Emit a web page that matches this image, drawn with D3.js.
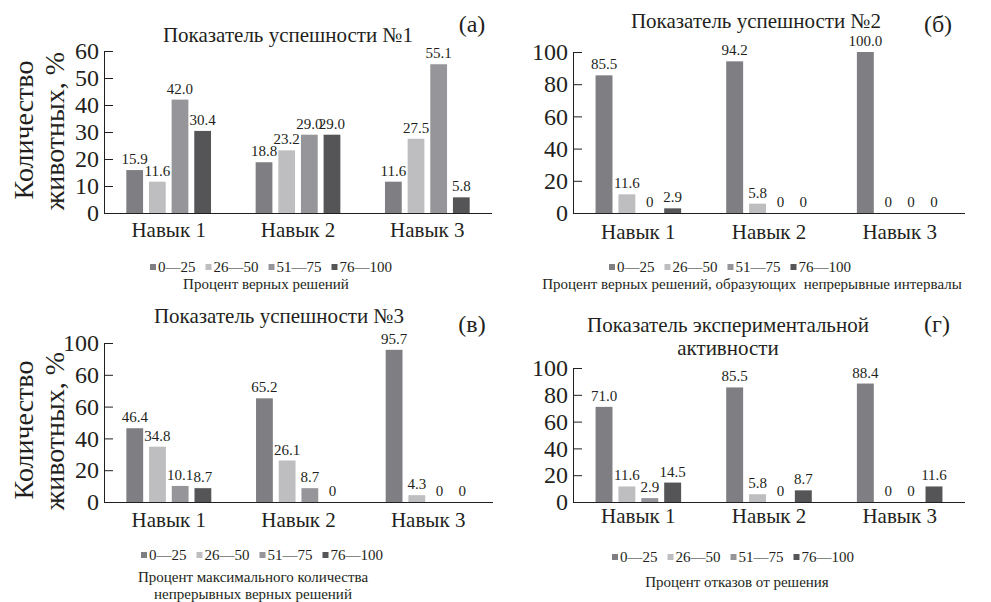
<!DOCTYPE html>
<html><head><meta charset="utf-8">
<script src="https://cdn.jsdelivr.net/npm/d3@7"></script>
<style>
body{margin:0;background:#fff}
svg{display:block}
svg text, svg tspan{font-family:"Liberation Serif","Times New Roman",Tinos,"Nimbus Roman",FreeSerif !important;}
</style>
</head><body><svg id="c" width="991" height="602" font-family="Liberation Serif"></svg>
<script>
// ---------- data ----------
const categories = ["Навык 1", "Навык 2", "Навык 3"];
const seriesLabels = ["0—25", "26—50", "51—75", "76—100"];
// rows = series (0–25, 26–50, 51–75, 76–100), columns = categories
const success1 = [[15.9, 18.8, 11.6], [11.6, 23.2, 27.5], [42.0, 29.0, 55.1], [30.4, 29.0, 5.8]];
const success2 = [[85.5, 94.2, 100.0], [11.6, 5.8, 0], [0, 0, 0], [2.9, 0, 0]];
const success3 = [[46.4, 65.2, 95.7], [34.8, 26.1, 4.3], [10.1, 8.7, 0], [8.7, 0, 0]];
const activity = [[71.0, 85.5, 88.4], [11.6, 5.8, 0], [2.9, 0, 0], [14.5, 8.7, 11.6]];
const ticks60 = [0, 10, 20, 30, 40, 50, 60];
const ticks100 = [0, 20, 40, 60, 80, 100];
const tickLabels60 = ["0", "10", "20", "30", "40", "50", "60"];
const tickLabels100 = ["0", "20", "40", "60", "80", "100"];
const tickLabels3 = ["0", "20", "40", "60", "60", "100"];
const titles = [["Показатель успешности №1"], ["Показатель успешности №2"], ["Показатель успешности №3"], ["Показатель экспериментальной", "активности"]];
const letters = ["(а)", "(б)", "(в)", "(г)"];
const captions = [["Процент верных решений"], ["Процент верных решений, образующих  непрерывные интервалы"], ["Процент максимального количества", "непрерывных верных решений"], ["Процент отказов от решения"]];
const yTitle = ["Количество", "животных, %"];

// ---------- styles / layout ----------
const FONT = "Liberation Serif";
const FONT_CSS = '"Liberation Serif", "Times New Roman", Tinos, serif';
const INK = "#231f20";
const colors = ["#7f7f83", "#bebec1", "#96969a", "#555557"];
const panels = [
  {data: success1, ticks: ticks60, tickLabels: tickLabels60, max: 60, x0: 104, x1: 492, y0: 213, yTop: 51,
   titleX: 288, titleY: [42], letterX: 472, letterY: 32, catY: 237, legX: 271, legY: 272, capX: 266, capY: [289], ylab: 130},
  {data: success2, ticks: ticks100, tickLabels: tickLabels100, max: 100, x0: 573, x1: 965, y0: 213, yTop: 52,
   titleX: 756, titleY: [28], letterX: 938, letterY: 32, catY: 239, legX: 730, legY: 272, capX: 752, capY: [289]},
  {data: success3, ticks: ticks100, tickLabels: tickLabels3, max: 100, x0: 104, x1: 493, y0: 502, yTop: 343,
   titleX: 279, titleY: [323], letterX: 472, letterY: 332, catY: 527, legX: 262, legY: 560, capX: 253, capY: [582, 599], ylab: 430},
  {data: activity, ticks: ticks100, tickLabels: tickLabels100, max: 100, x0: 573, x1: 965, y0: 502, yTop: 368,
   titleX: 728, titleY: [332, 355], letterX: 937, letterY: 332, catY: 523, legX: 733, legY: 562, capX: 737, capY: [587]}
];

const svg = d3.select("#c");
const fmt = v => v === 0 ? "0" : v.toFixed(1);
// style a text and put its content in a serif tspan
const txt = (sel, size, content) => {
  sel.attr("font-family", FONT).attr("font-size", size).attr("fill", INK)
    .style("font-family", FONT_CSS, "important");
  sel.each(function(d, i) {
    const node = d3.select(this);
    const s = content !== undefined ? content : node.text();
    node.text(null);
    node.append("tspan").attr("font-family", FONT).attr("font-size", size)
      .style("font-family", FONT_CSS, "important").style("font-size", size + "px", "important").text(s);
  });
  return sel;
};

panels.forEach((p, pi) => {
  const g = svg.append("g");
  const x = d3.scaleBand().domain(categories).range([p.x0, p.x1]).paddingInner(0.345).paddingOuter(0.1725);
  const xs = d3.scaleBand().domain(seriesLabels).range([0, x.bandwidth()]).paddingInner(0.26);
  const y = d3.scaleLinear().domain([0, p.max]).range([p.y0, p.yTop]);

  // bars
  p.data.forEach((row, si) => {
    row.forEach((v, ci) => {
      const bx = x(categories[ci]) + xs(seriesLabels[si]);
      g.append("rect").attr("x", bx).attr("y", y(v)).attr("width", xs.bandwidth())
        .attr("height", p.y0 - y(v)).attr("fill", colors[si]);
      txt(g.append("text").attr("x", bx + xs.bandwidth() / 2).attr("y", y(v) - 6)
        .attr("text-anchor", "middle"), 15, fmt(v));
    });
  });

  // y axis
  const ya = d3.axisLeft(y).tickValues(p.ticks).tickSize(-9).tickSizeOuter(0).tickPadding(5)
    .tickFormat((d, i) => p.tickLabels[i]);
  const yg = g.append("g").attr("transform", `translate(${p.x0},0)`).call(ya);
  yg.attr("font-family", FONT).attr("font-size", 24);
  txt(yg.selectAll("text"), 24);
  yg.selectAll("line").attr("stroke", INK);
  yg.select(".domain").attr("stroke", INK);

  // x axis
  const xa = d3.axisBottom(x).tickSize(0).tickSizeOuter(0).tickPadding(0);
  const xg = g.append("g").attr("transform", `translate(0,${p.y0})`).call(xa);
  xg.attr("font-family", FONT).attr("font-size", 21);
  xg.select(".domain").attr("stroke", INK).attr("d", `M${p.x0},0.5H${p.x1}`);
  txt(xg.selectAll("text").attr("dy", null).attr("y", p.catY - p.y0), 21);

  // title
  titles[pi].forEach((t, li) => {
    txt(g.append("text").attr("x", p.titleX).attr("y", p.titleY[li]).attr("text-anchor", "middle"), 21, t);
  });
  txt(g.append("text").attr("x", p.letterX).attr("y", p.letterY).attr("text-anchor", "middle"), 24, letters[pi]);

  // legend
  const leg = g.append("g");
  let cx = 0;
  seriesLabels.forEach((s, si) => {
    leg.append("rect").attr("x", cx).attr("y", -8).attr("width", 6).attr("height", 6).attr("fill", colors[si]);
    const t = txt(leg.append("text").attr("x", cx + 8).attr("y", 0), 15, s);
    cx += 8 + t.node().getComputedTextLength() + 10;
  });
  cx -= 10;
  leg.attr("transform", `translate(${p.legX - cx / 2},${p.legY})`);

  // caption
  captions[pi].forEach((c, li) => {
    txt(g.append("text").attr("x", p.capX).attr("y", p.capY[li]).attr("text-anchor", "middle")
      .attr("xml:space", "preserve"), 15, c);
  });

  // y title
  if (p.ylab) {
    txt(g.append("text").attr("transform", `translate(33,${p.ylab}) rotate(-90)`).attr("text-anchor", "middle"), 28, yTitle[0]);
    txt(g.append("text").attr("transform", `translate(64,${p.ylab + 1}) rotate(-90)`).attr("text-anchor", "middle"), 28, yTitle[1]);
  }
});
</script>
</body></html>
